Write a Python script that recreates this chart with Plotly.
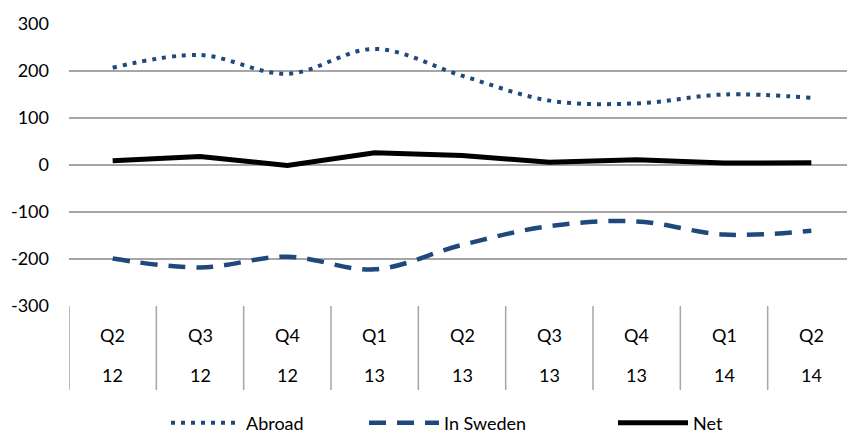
import plotly.graph_objects as go

quarters = ["Q2", "Q3", "Q4", "Q1", "Q2", "Q3", "Q4", "Q1", "Q2"]
years = ["12", "12", "12", "13", "13", "13", "13", "14", "14"]
abroad = [207, 234, 194, 247, 190, 137, 131, 150, 143]
in_sweden = [-199, -218, -195, -222, -170, -130, -120, -148, -140]
net = [9, 18, -1, 26, 20, 6, 11, 4, 5]
y_ticks = [300, 200, 100, 0, -100, -200, -300]

blue = "#1F497D"
grid = "#A6A6A6"
FONT = "Lato"
OFF = 8  # default page body margin
W, H = 855 - OFF, 434 - OFF
L, R, T, B = 69 - OFF, 0, 24 - OFF, 434 - 306
PH = H - T - B

x = list(range(len(quarters)))

fig = go.Figure()
fig.add_trace(go.Scatter(x=x, y=abroad, name="Abroad", mode="lines", legend="legend",
                         line=dict(color=blue, width=4, dash="4px,6px", shape="spline", smoothing=1)))
fig.add_trace(go.Scatter(x=x, y=in_sweden, name="In Sweden", mode="lines", legend="legend2",
                         line=dict(color=blue, width=4.5, dash="17px,11px", shape="spline", smoothing=1)))
fig.add_trace(go.Scatter(x=x, y=net, name="Net", mode="lines", legend="legend3",
                         line=dict(color="black", width=5)))

# category table on x axis
box_bottom = -(390 - 306) / PH
for i in range(len(quarters) + 1):
    fig.add_shape(type="line", xref="x", yref="paper", x0=i - 0.5, x1=i - 0.5,
                  y0=0, y1=box_bottom, line=dict(color=grid, width=1.5))
for i, (q, yr) in enumerate(zip(quarters, years)):
    fig.add_annotation(x=i, y=-(335 - 306) / PH, xref="x", yref="paper", text=q,
                       showarrow=False, yanchor="middle",
                       font=dict(family=FONT, size=18, color="black"))
    fig.add_annotation(x=i, y=-(375 - 306) / PH, xref="x", yref="paper", text=yr,
                       showarrow=False, yanchor="middle",
                       font=dict(family=FONT, size=18, color="black"))


def leg(px):
    return dict(orientation="h", x=(px - OFF) / W, xanchor="left", xref="container",
                y=1 - (423 - OFF) / H, yanchor="middle", yref="container",
                font=dict(family=FONT, size=18, color="black"), itemwidth=70,
                bgcolor="rgba(0,0,0,0)")


fig.update_layout(
    width=W, height=H,
    margin=dict(l=L, r=R, t=T, b=B, autoexpand=False),
    plot_bgcolor="white", paper_bgcolor="white",
    font=dict(family=FONT, size=18, color="black"),
    showlegend=True,
    legend=leg(166), legend2=leg(364), legend3=leg(613),
    xaxis=dict(range=[-0.5, len(quarters) - 0.5], showgrid=False, zeroline=False,
               showticklabels=False, showline=False, fixedrange=True, automargin=False),
    yaxis=dict(range=[-300, 300], tickvals=y_ticks, ticktext=[str(v) for v in y_ticks],
               showgrid=True, gridcolor=grid, gridwidth=1.5, zeroline=False,
               showline=False, ticks="", ticklabelstandoff=19, fixedrange=True,
               automargin=False),
)

fig.write_html("out.html")
